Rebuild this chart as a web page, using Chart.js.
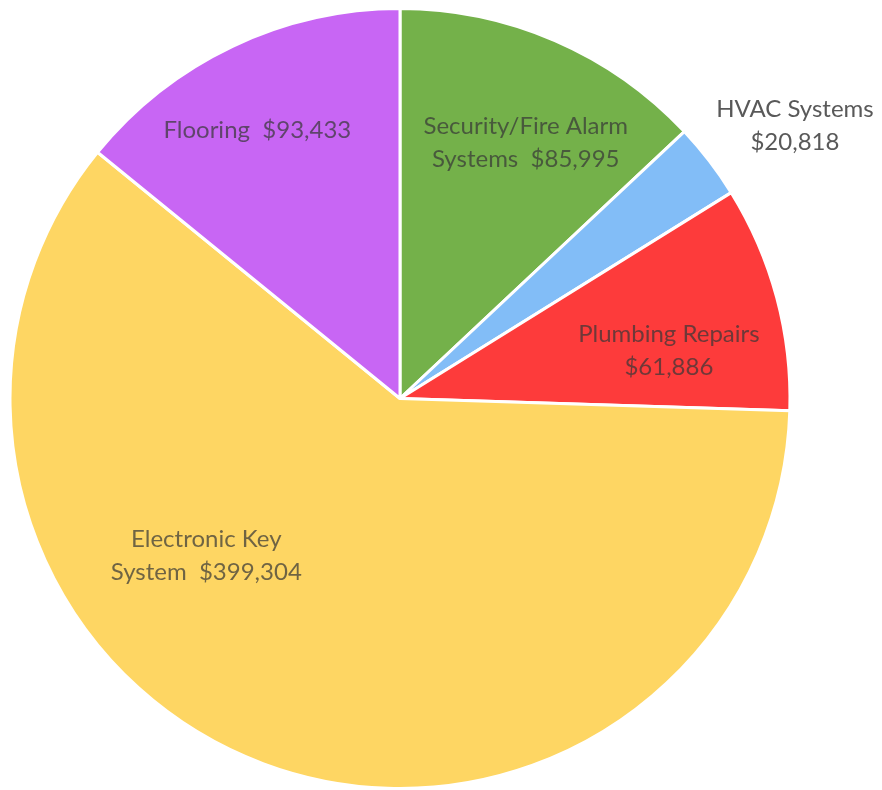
<!DOCTYPE html>
<html>
<head>
<meta charset="utf-8">
<script src="https://cdn.jsdelivr.net/npm/chart.js@4"></script>
<style>
  body { margin: 0; background: #fff; overflow: hidden; }
  #wrap { width: 882px; height: 790px; }
</style>
</head>
<body>
<div id="wrap"><canvas id="pie" width="882" height="790"></canvas></div>
<script>
// chart data
var categories = ['Security/Fire Alarm Systems', 'HVAC Systems', 'Plumbing Repairs', 'Electronic Key System', 'Flooring'];
var amounts = [85995, 20818, 61886, 399304, 93433];
var sliceColors = ['#74b14a', '#82bdf7', '#fd3b3b', '#fed663', '#c866f4'];

// label lines for each slice
var labelLines = [
    ['Security/Fire Alarm', 'Systems  $85,995'],
    ['HVAC Systems', '$20,818'],
    ['Plumbing Repairs', '$61,886'],
    ['Electronic Key', 'System  $399,304'],
    ['Flooring  $93,433']
];
// where to put the label: angle inside slice (0..1) and distance from centre (fraction of radius)
var labelAngle = [0.56, 0.76, 0.65, 0.64, 0.45];
var labelDist = [0.73, 1.23, 0.70, 0.64, 0.78];

// draws the data labels
var pieLabels = {
    id: 'pieLabels',
    afterDatasetsDraw: function(chart) {
        var ctx = chart.ctx;
        var meta = chart.getDatasetMeta(0);
        ctx.save();
        ctx.font = '24px Lato, "Open Sans", sans-serif';
        ctx.textAlign = 'center';
        ctx.textBaseline = 'middle';
        meta.data.forEach(function(arc, i) {
            var a = arc.startAngle + (arc.endAngle - arc.startAngle) * labelAngle[i];
            var r = arc.outerRadius * labelDist[i];
            var x = arc.x + Math.cos(a) * r;
            var y = arc.y + Math.sin(a) * r;
            var lines = labelLines[i];
            ctx.fillStyle = labelDist[i] > 1 ? '#595959' : 'rgba(55,55,55,0.72)';
            var lh = 33;
            lines.forEach(function(t, k) {
                ctx.fillText(t, x, y + (k - (lines.length - 1) / 2) * lh);
            });
        });
        ctx.restore();
    }
};

new Chart(document.getElementById('pie'), {
    type: 'pie',
    data: {
        labels: categories,
        datasets: [{
            data: amounts,
            backgroundColor: sliceColors,
            borderColor: '#ffffff',
            borderWidth: 3
        }]
    },
    options: {
        responsive: false,
        animation: false,
        layout: { padding: { top: 7, bottom: -4, left: 8, right: 90 } },
        plugins: {
            legend: { display: false },
            tooltip: { enabled: false }
        }
    },
    plugins: [pieLabels]
});
</script>
</body>
</html>
